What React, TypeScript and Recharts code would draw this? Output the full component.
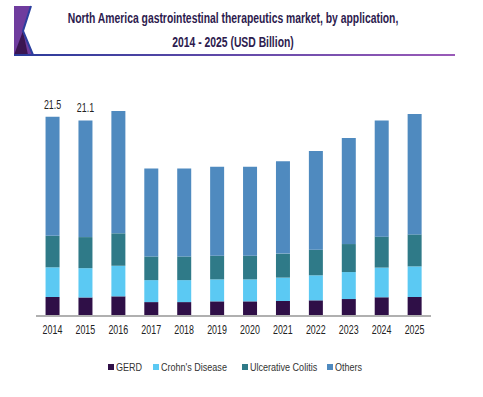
import { BarChart, Bar, XAxis, YAxis, LabelList } from "recharts";

const years = ["2014", "2015", "2016", "2017", "2018", "2019", "2020", "2021", "2022", "2023", "2024", "2025"];
const gerd = [2.05, 2.0, 2.12, 1.5, 1.5, 1.58, 1.58, 1.62, 1.69, 1.83, 2.02, 2.05];
const crohns = [3.2, 3.16, 3.3, 2.37, 2.37, 2.37, 2.37, 2.52, 2.7, 2.91, 3.2, 3.3];
const ulcerative = [3.4, 3.35, 3.5, 2.55, 2.55, 2.55, 2.55, 2.59, 2.76, 3.02, 3.34, 3.45];
const others = [12.85, 12.59, 13.18, 9.48, 9.48, 9.6, 9.6, 9.97, 10.65, 11.44, 12.54, 13.0];
const totalLabels = ["21.5", "21.1"];

const series = [
  { key: "gerd", name: "GERD", color: "#2f0f47" },
  { key: "crohns", name: "Crohn's Disease", color: "#5bc9f3" },
  { key: "ulcerative", name: "Ulcerative Colitis", color: "#2f7a88" },
  { key: "others", name: "Others", color: "#4f8abf" },
];

const data = years.map((year, i) => ({
  year,
  gerd: gerd[i],
  crohns: crohns[i],
  ulcerative: ulcerative[i],
  others: others[i],
  label: totalLabels[i] ?? "",
}));

const font = "'Liberation Sans', Arial, sans-serif";

// the source uses a narrow face; squeeze Liberation Sans horizontally instead
function NarrowText({ x, y, children, size = 12, squeeze = 0.74, dy = 0 }: any) {
  return (
    <g transform={`translate(${x},${y}) scale(${squeeze},1)`}>
      <text x={0} y={dy} textAnchor="middle" fontSize={size} fill="#222" fontFamily={font}>
        {children}
      </text>
    </g>
  );
}

function YearTick(props: any) {
  const { x, y, payload } = props;
  return <NarrowText x={x} y={y} dy={10}>{payload.value}</NarrowText>;
}

function TopLabel(props: any) {
  const { x, y, width, value } = props;
  if (!value) return null;
  return <NarrowText x={x + width / 2} y={y - 8}>{value}</NarrowText>;
}

export default function App() {
  return (
    <div style={{ position: "fixed", left: 0, top: 0, width: 483, height: 397, background: "#fff", fontFamily: font }}>
      {/* header badge and rule */}
      <svg width={483} height={60} style={{ position: "absolute", left: 0, top: 0 }}>
        <defs>
          <linearGradient id="rule" x1="0" x2="1" y1="0" y2="0">
            <stop offset="0" stopColor="#2a3a9a" />
            <stop offset="1" stopColor="#9a5ab8" />
          </linearGradient>
        </defs>
        <polygon points="14,6 31,6 23,31 33,55 14,55" fill="#6f3c9e" />
        <polygon points="14,55 23,31 28,55" fill="#3a1552" />
        <polyline points="31,6 23,31 33,55" fill="none" stroke="#2c3f9e" strokeWidth={2} />
        <rect x={14} y={54} width={441} height={2} fill="url(#rule)" />
      </svg>
      <div
        style={{
          position: "absolute",
          left: 0,
          top: 6,
          width: 466,
          textAlign: "center",
          fontSize: 14,
          fontWeight: "bold",
          color: "#2d1b4e",
          lineHeight: "24px",
          transform: "scaleX(0.74)",
          transformOrigin: "233px 0",
          whiteSpace: "nowrap",
        }}
      >
        North America gastrointestinal therapeutics market, by application,
        <br />
        2014 - 2025 (USD Billion)
      </div>
      <div style={{ position: "absolute", left: 0, top: 0 }}>
        <BarChart
          width={483}
          height={397}
          data={data}
          margin={{ top: 93.5, right: 52, bottom: 51, left: 36 }}
          barCategoryGap="29%"
        >
          <XAxis
            dataKey="year"
            height={30}
            tickLine={false}
            axisLine={{ stroke: "#b0b0b0", strokeWidth: 2 }}
            tick={<YearTick />}
            interval={0}
          />
          <YAxis hide domain={[0, 24]} />
          {series.map((s) => (
            <Bar key={s.key} dataKey={s.key} stackId="a" fill={s.color} isAnimationActive={false}>
              {s.key === "others" && <LabelList dataKey="label" content={<TopLabel />} />}
            </Bar>
          ))}
        </BarChart>
      </div>
      <div style={{ position: "absolute", top: 361, left: 0, width: 483, fontSize: 11, color: "#333", lineHeight: "12px" }}>
        {series.map((s, i) => (
          <div
            key={s.key}
            style={{
              position: "absolute",
              left: [108, 153, 242, 327][i],
              display: "flex",
              alignItems: "center",
              whiteSpace: "nowrap",
            }}
          >
            <span style={{ width: 6, height: 6, background: s.color, display: "inline-block", marginRight: 2 }} />
            <span style={{ display: "inline-block", transform: "scaleX(0.82)", transformOrigin: "0 0" }}>{s.name}</span>
          </div>
        ))}
      </div>
    </div>
  );
}
